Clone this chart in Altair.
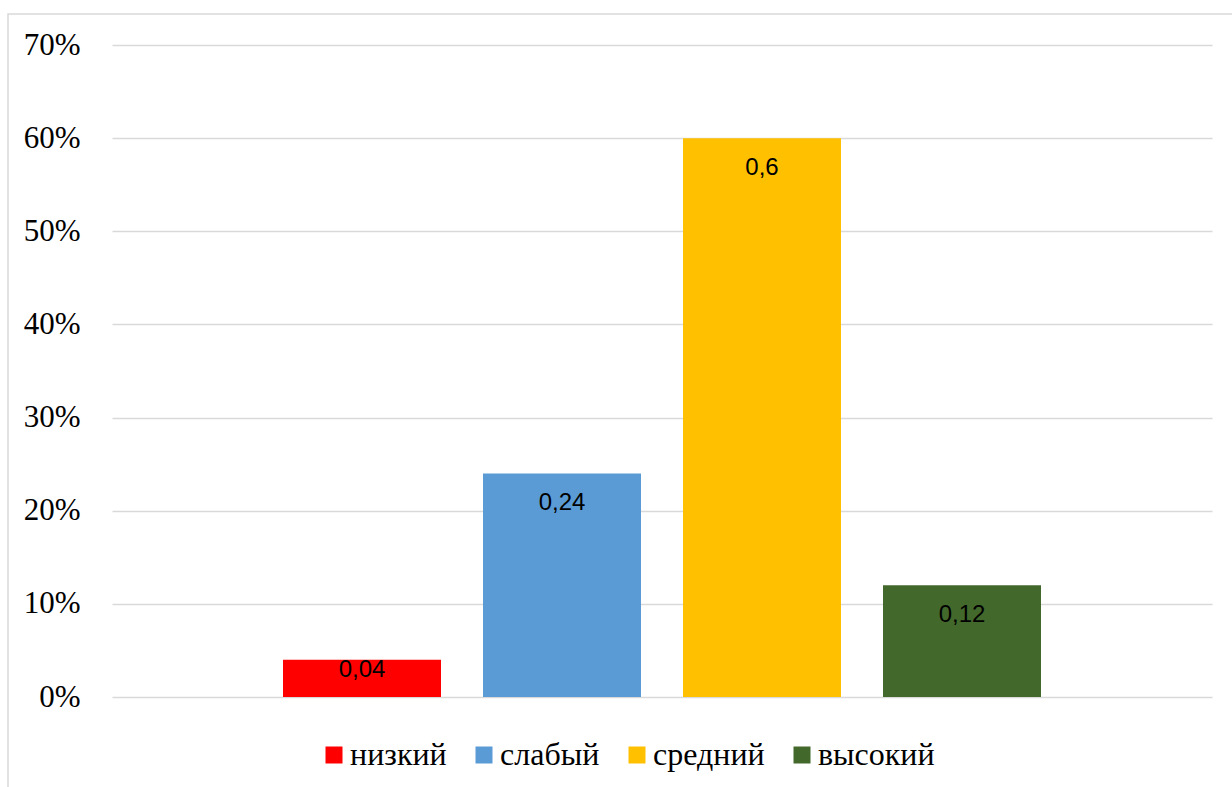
import altair as alt
import pandas as pd

categories = ["низкий", "слабый", "средний", "высокий"]
values = [0.04, 0.24, 0.60, 0.12]
colors = ["#FF0000", "#5B9BD5", "#FFC000", "#43682B"]
y_ticks = [0, 0.1, 0.2, 0.3, 0.4, 0.5, 0.6, 0.7]

df = pd.DataFrame({"cat": categories, "value": values})

W, H = 1100, 652

xscale = alt.Scale(domain=categories, paddingInner=0.21, paddingOuter=0.855)
cscale = alt.Scale(domain=categories, range=colors)

base = alt.Chart(df)

frame = alt.Chart(pd.DataFrame({"a": [0]})).mark_rect(
    fill=None, stroke="#d9d9d9", strokeWidth=1.5
).encode(
    x=alt.value(-104), x2=alt.value(1130),
    y=alt.value(-31), y2=alt.value(760),
)

bars = base.mark_bar().encode(
    x=alt.X("cat:N", scale=xscale, sort=categories, axis=None),
    y=alt.Y(
        "value:Q",
        scale=alt.Scale(domain=[0, 0.7], nice=False),
        axis=alt.Axis(
            values=y_ticks, format=".0%", title=None, domain=False, ticks=False,
            labelFont="Liberation Serif", labelFontSize=31, labelColor="#000000",
            labelPadding=32, grid=True, gridColor="#d9d9d9", gridWidth=1.5,
        ),
    ),
    color=alt.Color(
        "cat:N", scale=cscale, sort=categories,
        legend=alt.Legend(
            title=None, orient="none", legendX=206, legendY=694, padding=0,
            direction="horizontal", columns=4, symbolType="square",
            symbolSize=289, symbolStrokeWidth=0, labelFont="Liberation Serif",
            labelFontSize=32, labelColor="#000000", columnPadding=21,
            labelOffset=0,
        ),
    ),
)

labels = base.transform_calculate(
    lbl="replace(format(datum.value, ''), '.', ',')",
    pos="max(datum.value - 0.032, datum.value * 0.72)",
).mark_text(
    font="Liberation Sans", fontSize=24, color="#000000", baseline="middle"
).encode(
    x=alt.X("cat:N", scale=xscale, sort=categories),
    y=alt.Y("pos:Q"),
    text="lbl:N",
)

chart = alt.layer(frame, bars, labels).properties(
    width=W, height=H,
    autosize=alt.AutoSizeParams(type="none"),
    padding={"left": 112, "top": 45, "right": 20, "bottom": 90},
    background="white",
).configure_view(stroke=None)

chart.save("out.html", embed_options={"renderer": "svg", "actions": False})
